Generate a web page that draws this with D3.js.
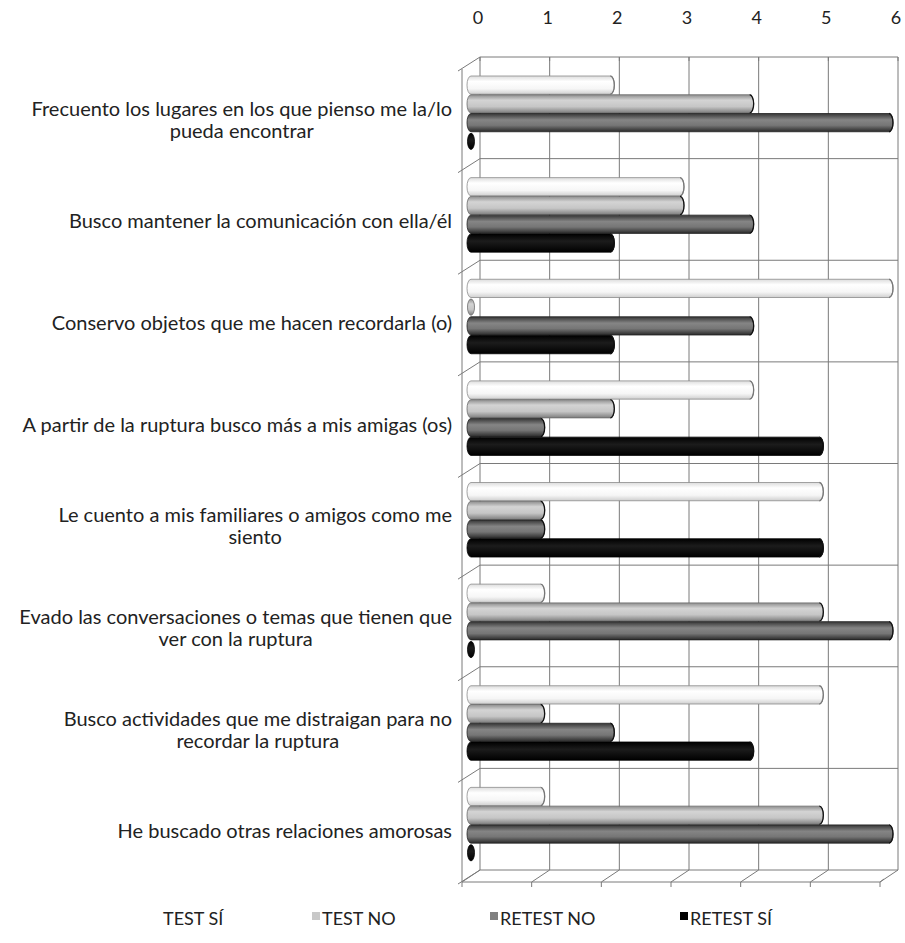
<!DOCTYPE html>
<html><head><meta charset="utf-8">
<script src="https://cdn.jsdelivr.net/npm/d3@7"></script>
<style>body{margin:0;background:#fff;}svg{display:block;}</style>
</head><body>
<script>
const categories = [
  ["Frecuento los lugares en los que pienso me la/lo","pueda encontrar"],
  ["Busco mantener la comunicación con ella/él"],
  ["Conservo objetos que me hacen recordarla (o)"],
  ["A partir de la ruptura busco más a mis amigas (os)"],
  ["Le cuento a mis familiares o amigos como me","siento"],
  ["Evado las conversaciones o temas que tienen que","ver con la ruptura"],
  ["Busco actividades que me distraigan para no","recordar la ruptura"],
  ["He buscado otras relaciones amorosas"]
];
const seriesNames = ["TEST SÍ","TEST NO","RETEST NO","RETEST SÍ"];
const testSi   = [2,3,6,4,5,1,5,1];
const testNo   = [4,3,0,2,1,5,1,5];
const retestNo = [6,4,4,1,1,6,2,6];
const retestSi = [0,2,2,5,5,0,4,0];
const ticks = [0,1,2,3,4,5,6];

const seriesValues = [testSi,testNo,retestNo,retestSi];
const W=905,H=943;
const svg=d3.select("body").append("svg").attr("width",W).attr("height",H);
const FONT="Lato, 'Open Sans', sans-serif";

// 3D depth offsets
const DX=18, DY=12;
const x = d3.scaleLinear().domain([0,6]).range([480,898]); // back wall
const catIdx = categories.map((c,i)=>i);
const y0 = d3.scaleBand().domain(catIdx).range([57,870]);
const y1 = d3.scaleBand().domain(seriesNames).range([0,75]);

const defs=svg.append("defs");
const grads=[
  {id:"g0",stops:[[0,"#dcdcdc"],[0.3,"#ffffff"],[0.7,"#f6f6f6"],[1,"#cfcfcf"]],stroke:"#8c8c8c"},
  {id:"g1",stops:[[0,"#8d8d8d"],[0.3,"#d4d4d4"],[0.65,"#c6c6c6"],[1,"#7d7d7d"]],stroke:"#6a6a6a"},
  {id:"g2",stops:[[0,"#353535"],[0.35,"#858585"],[0.65,"#767676"],[1,"#2a2a2a"]],stroke:"#222"},
  {id:"g3",stops:[[0,"#000"],[0.4,"#1c1c1c"],[1,"#000"]],stroke:"#000"}
];
grads.forEach(g=>{
  const lg=defs.append("linearGradient").attr("id",g.id).attr("x1",0).attr("y1",0).attr("x2",0).attr("y2",1);
  g.stops.forEach(s=>lg.append("stop").attr("offset",s[0]).attr("stop-color",s[1]));
});

const gridC="#7a7a7a";
const grid=svg.append("g").attr("stroke",gridC).attr("stroke-width",1).attr("fill","none");
// back wall vertical gridlines
ticks.forEach(t=>{
  grid.append("line").attr("x1",x(t)).attr("x2",x(t)).attr("y1",57).attr("y2",870);
});
// back wall horizontal category boundaries
const bounds = catIdx.map(i=>y0(i)).concat([870]);
bounds.forEach(b=>{
  grid.append("line").attr("x1",x(0)).attr("x2",x(6)).attr("y1",b).attr("y2",b);
  // left wall diagonal
  grid.append("line").attr("x1",x(0)-DX-4).attr("y1",b+DY+2).attr("x2",x(0)).attr("y2",b);
});
// left wall front edge
grid.append("line").attr("x1",x(0)-DX).attr("x2",x(0)-DX).attr("y1",57+DY).attr("y2",870+DY);
// floor
grid.append("line").attr("x1",x(0)-DX).attr("x2",x(6)-DX).attr("y1",870+DY).attr("y2",870+DY);
ticks.forEach(t=>{
  grid.append("line").attr("x1",x(t)-DX).attr("y1",870+DY).attr("x2",x(t)).attr("y2",870);
  grid.append("line").attr("x1",x(t)-DX).attr("y1",870+DY).attr("x2",x(t)-DX).attr("y2",870+DY+5);
  // top ticks
  grid.append("line").attr("x1",x(t)).attr("y1",57).attr("x2",x(t)).attr("y2",61);
});
grid.append("line").attr("x1",x(6)-DX).attr("y1",870+DY).attr("x2",x(6)-DX+4).attr("y2",870+DY-3);

// top axis labels
svg.append("g").selectAll("text").data(ticks).join("text")
  .attr("x",d=>x(d)-2).attr("y",24).attr("text-anchor","middle")
  .attr("font-family",FONT).attr("font-size",18).attr("fill","#222")
  .text(d=>d);

// bars (mid-depth)
const mx = v => x(v)-DX/2;
const rx=4;
const barG=svg.append("g");
for(let c=0;c<categories.length;c++){
  seriesNames.forEach((s,si)=>{
    const v=seriesValues[si][c];
    const top=y0(c)+13+DY/2+y1(s);
    const h=y1.bandwidth()-0.5;
    const x0=mx(0), x1v=mx(v);
    const g=grads[si];
    if(v===0){
      barG.append("ellipse").attr("cx",x0).attr("cy",top+h/2).attr("rx",rx-0.5).attr("ry",h/2-1)
        .attr("fill",`url(#${g.id})`).attr("stroke",g.stroke).attr("stroke-width",0.8);
    } else {
      const p=`M${x0},${top} L${x1v},${top} A${rx},${h/2} 0 0 1 ${x1v},${top+h} L${x0},${top+h} A${rx},${h/2} 0 0 1 ${x0},${top} Z`;
      barG.append("path").attr("d",p).attr("fill",`url(#${g.id})`).attr("stroke",g.stroke).attr("stroke-width",0.8);
      barG.append("path").attr("d",`M${x1v},${top} A${rx},${h/2} 0 0 1 ${x1v},${top+h}`)
        .attr("fill","none").attr("stroke",si===0?"#777":"#111").attr("stroke-width",1.3);
    }
  });
}

// category labels
const lab=svg.append("g").attr("font-family",FONT).attr("font-size",20).attr("fill","#222");
categories.forEach((lines,i)=>{
  const cy=y0(i)+y0.bandwidth()/2+DY;
  const t=lab.append("text").attr("text-anchor","middle");
  const lh=22;
  const startY=cy-(lines.length-1)*lh/2+7;
  const spans=lines.map((l,k)=>t.append("tspan").attr("y",startY+k*lh).text(l));
  let w=0; spans.forEach(s=>{w=Math.max(w,s.node().getComputedTextLength());});
  spans.forEach(s=>s.attr("x",452-w/2));
});

// legend
const legendX=[163,322,500,690];
const swCol=["#ffffff","#c8c8c8","#808080","#000000"];
const lg=svg.append("g").attr("font-family",FONT).attr("font-size",18).attr("fill","#222");
seriesNames.forEach((s,i)=>{
  lg.append("rect").attr("x",legendX[i]-10).attr("y",912).attr("width",8).attr("height",8).attr("fill",swCol[i]);
  lg.append("text").attr("x",legendX[i]).attr("y",925).text(s);
});
</script>
</body></html>
